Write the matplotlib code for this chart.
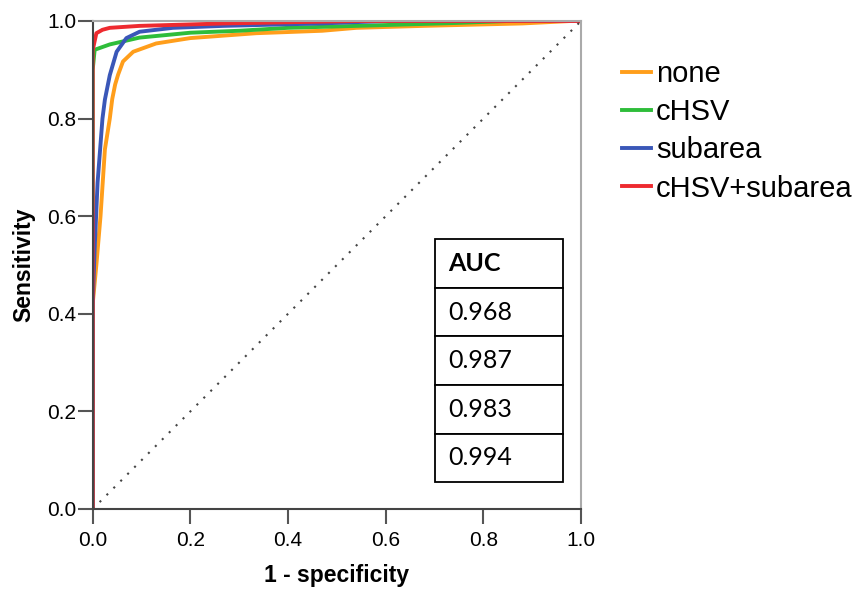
import numpy as np
import matplotlib.pyplot as plt

# ROC points (1 - specificity, sensitivity)
fpr_none = [0.0, 0.0, 0.0075, 0.016, 0.025, 0.035, 0.04, 0.046, 0.052, 0.062, 0.083, 0.13, 0.2, 0.335, 0.47, 0.54, 0.677, 0.88, 0.98, 1.0]
tpr_none = [0.0, 0.42, 0.50, 0.60, 0.737, 0.80, 0.84, 0.87, 0.89, 0.917, 0.937, 0.954, 0.965, 0.975, 0.98, 0.986, 0.99, 0.995, 1.0, 1.0]

fpr_chsv = [0.0, 0.0, 0.004, 0.035, 0.096, 0.2, 0.30, 0.40, 0.61, 0.745, 0.85, 1.0]
tpr_chsv = [0.0, 0.90, 0.941, 0.952, 0.966, 0.976, 0.98, 0.986, 0.992, 0.996, 1.0, 1.0]

fpr_sub = [0.0, 0.0, 0.004, 0.01, 0.02, 0.025, 0.035, 0.049, 0.069, 0.096, 0.164, 0.267, 0.47, 0.6, 1.0]
tpr_sub = [0.0, 0.416, 0.533, 0.669, 0.80, 0.839, 0.889, 0.937, 0.965, 0.978, 0.986, 0.99, 0.995, 1.0, 1.0]

fpr_both = [0.0, 0.0, 0.0075, 0.02, 0.035, 0.096, 0.27, 0.54, 1.0]
tpr_both = [0.0, 0.94, 0.975, 0.982, 0.986, 0.99, 0.995, 1.0, 1.0]

names = ['none', 'cHSV', 'subarea', 'cHSV+subarea']
colors = ['#ff9e1b', '#2ebd3a', '#3a57b8', '#ee2a2f']
auc_vals = ['0.968', '0.987', '0.983', '0.994']

plt.rcParams['font.family'] = ['Liberation Sans', 'DejaVu Sans']

fig = plt.figure(figsize=(8.59, 5.90), dpi=100)
ax = fig.add_axes([92.7 / 859, 81 / 590, 488.3 / 859, 488 / 590])

curves = [(fpr_none, tpr_none), (fpr_chsv, tpr_chsv), (fpr_sub, tpr_sub), (fpr_both, tpr_both)]
for (x, y), c, n in zip(curves, colors, names):
    ax.plot(x, y, color=c, lw=2.8, label=n, solid_joinstyle='round')

ax.plot([0, 1], [0, 1], color='#444444', lw=1.5, ls=(0, (1, 3.7)))

ax.set_xlim(0, 1)
ax.set_ylim(0, 1)
ticks = [0.0, 0.2, 0.4, 0.6, 0.8, 1.0]
ax.set_xticks(ticks)
ax.set_yticks(ticks)
ax.set_xticklabels(['%.1f' % t for t in ticks])
ax.set_yticklabels(['%.1f' % t for t in ticks])
ax.tick_params(labelsize=15, length=11, width=1.5, color='#555555', direction='out')
ax.tick_params(axis='x', pad=5)
ax.tick_params(axis='y', pad=1)
ax.set_xlabel('1 - specificity', fontsize=16.5, fontweight='bold', labelpad=10)
ax.set_ylabel('Sensitivity', fontsize=16.5, fontweight='bold', labelpad=8)

ax.spines['left'].set_color('#444444')
ax.spines['bottom'].set_color('#444444')
ax.spines['top'].set_color('#aaaaaa')
ax.spines['right'].set_color('#aaaaaa')
for s in ax.spines.values():
    s.set_linewidth(1.5)

# AUC table
tab = ax.table(cellText=[['AUC']] + [[v] for v in auc_vals], cellLoc='left',
               bbox=[0.701, 0.055, 0.262, 0.498])
tab.auto_set_font_size(False)
for (r, c), cell in tab.get_celld().items():
    cell.set_linewidth(1.3)
    cell.set_edgecolor('black')
    cell.PAD = 0.1
    cell.get_text().set_fontfamily(['Lato', 'DejaVu Sans'])
    cell.get_text().set_fontsize(18)
    if r == 0:
        cell.get_text().set_fontweight('bold')

leg = fig.legend(loc='upper left', bbox_to_anchor=(622 / 859, 1 - 60 / 590), frameon=False,
                 fontsize=21, handlelength=1.0, handletextpad=0.17, labelspacing=0.35,
                 borderaxespad=0, borderpad=0)

fig.savefig('out.png', dpi=100)
